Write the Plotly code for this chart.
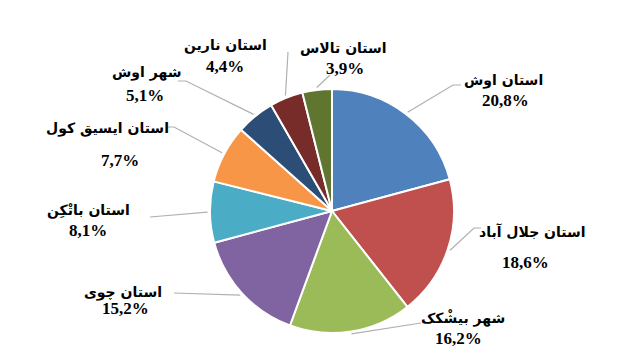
import math
import plotly.graph_objects as go

# ---- data ----
labels = ["استان اوش", "استان جلال آباد", "شهر بیشْکک", "استان چوی", "استان باتْکِن",
          "استان ایسیق کول", "شهر اوش", "استان نارین", "استان تالاس"]
values = [20.8, 18.6, 16.2, 15.2, 8.1, 7.7, 5.1, 4.4, 3.9]
colors = ["#4F81BD", "#C0504D", "#9BBB59", "#8064A2", "#4BACC6",
          "#F79646", "#2C4D75", "#772C2A", "#5F7530"]
pct_text = [f"{v:.1f}".replace(".", ",") + "%" for v in values]

# ---- layout (pixels) ----
W, H = 625, 354
cx, cy, R = 332, 211, 122
name_pos = [(503, 80), (532, 232), (463, 318), (123, 292), (88, 210),
            (107, 128), (146, 72), (225, 45), (343, 48)]
pct_pos = [(505, 100), (525, 262), (458, 338), (125, 308), (88, 230),
           (120, 160), (145, 95), (225, 67), (345, 68)]
leader_pts = [[(453, 85), (461, 85)], [(474, 228), (481, 228)], [(421, 323)],
              [(174, 293)], [(150, 217)], [(174, 127), (166, 127)],
              [(186, 81), (178, 81)], [(288, 52)], [(330, 75)]]

def px(x):
    return x / W

def py(y):
    return 1 - y / H

fig = go.Figure(go.Pie(
    labels=labels, values=values, sort=False, direction="clockwise", rotation=0,
    marker=dict(colors=colors, line=dict(color="white", width=2)),
    textinfo="none", hoverinfo="label+percent", showlegend=False,
    domain=dict(x=[px(cx - R), px(cx + R)], y=[py(cy + R), py(cy - R)]),
))

font = dict(family="DejaVu Sans, sans-serif", size=14, color="black")
annotations = []
shapes = []
total = sum(values)
cum = 0.0
for i, v in enumerate(values):
    theta = 2 * math.pi * (cum + v / 2) / total
    cum += v
    ex = cx + R * 1.02 * math.sin(theta)
    ey = cy - R * 1.02 * math.cos(theta)
    pts = [(ex, ey)] + leader_pts[i]
    path = "M " + " L ".join(f"{px(x):.5f},{py(y):.5f}" for x, y in pts)
    shapes.append(dict(type="path", path=path, xref="paper", yref="paper",
                       line=dict(color="#B0B0B0", width=1.2)))
    annotations.append(dict(x=px(name_pos[i][0]), y=py(name_pos[i][1]), xref="paper", yref="paper",
                            text="<b>" + labels[i] + "</b>", showarrow=False, font=font,
                            xanchor="center", yanchor="middle"))
    annotations.append(dict(x=px(pct_pos[i][0]), y=py(pct_pos[i][1]), xref="paper", yref="paper",
                            text="<b>" + pct_text[i] + "</b>", showarrow=False,
                            font=dict(family="Liberation Serif, serif", size=17, color="black"),
                            xanchor="center", yanchor="middle"))

fig.update_layout(width=W, height=H, margin=dict(l=0, r=0, t=0, b=0),
                  paper_bgcolor="white", plot_bgcolor="white",
                  annotations=annotations, shapes=shapes)
fig.write_html("out.html")
